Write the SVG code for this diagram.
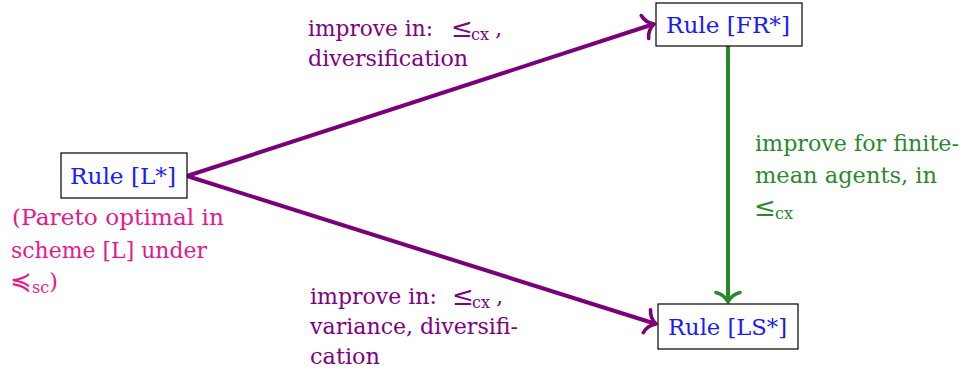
<svg xmlns="http://www.w3.org/2000/svg" width="965" height="374" viewBox="0 0 965 374">
<style>
text{font-family:"DejaVu Serif","Liberation Serif","Times New Roman",serif;font-size:23px}
.sub{font-size:16px}
.rel{font-size:26px}
.node rect{fill:#fff;stroke:#000;stroke-width:1.2}
.node text{fill:#1a1aff}
.pu{fill:#800080}
.gr{fill:#2a8a2a}
.pk{fill:#e6198c}
.ep{stroke:#7a007a;stroke-width:4;fill:none}
.eg{stroke:#2a8a2a;stroke-width:4;fill:none}
</style>
<defs>
<marker id="ap" markerUnits="userSpaceOnUse" orient="auto" markerWidth="30" markerHeight="30" viewBox="-15 -15 30 30" refX="0" refY="0" overflow="visible">
<path d="M-9.5,-12 C-8,-5.4 -2.7,-1.35 0,0 C-2.7,1.35 -8,5.4 -9.5,12" fill="none" stroke="#7a007a" stroke-width="3.6" stroke-linecap="round" stroke-linejoin="round"/>
</marker>
<marker id="ag" markerUnits="userSpaceOnUse" orient="auto" markerWidth="30" markerHeight="30" viewBox="-15 -15 30 30" refX="0" refY="0" overflow="visible">
<path d="M-9.5,-12 C-8,-5.4 -2.7,-1.35 0,0 C-2.7,1.35 -8,5.4 -9.5,12" fill="none" stroke="#2a8a2a" stroke-width="3.6" stroke-linecap="round" stroke-linejoin="round"/>
</marker>
</defs>
<g id="connectors">
<line class="ep" x1="187" y1="176" x2="654" y2="24" marker-end="url(#ap)"/>
<line class="ep" x1="187" y1="176" x2="656" y2="324" marker-end="url(#ap)"/>
<line class="eg" x1="728" y1="46" x2="728" y2="302" marker-end="url(#ag)"/>
<g id="label-top" class="pu">
<text x="308" y="36" textLength="125" lengthAdjust="spacingAndGlyphs">improve in:</text>
<text x="451" y="37"><tspan class="rel">≤</tspan><tspan class="sub" x="471" dy="3">cx</tspan><tspan x="495" dy="-4">,</tspan></text>
<text x="308" y="66" textLength="160" lengthAdjust="spacingAndGlyphs">diversification</text>
</g>
<g id="label-bottom" class="pu">
<text x="310" y="304" textLength="127" lengthAdjust="spacingAndGlyphs">improve in:</text>
<text x="452" y="305"><tspan class="rel">≤</tspan><tspan class="sub" x="472" dy="3">cx</tspan><tspan x="496" dy="-4">,</tspan></text>
<text x="310" y="334" textLength="208" lengthAdjust="spacingAndGlyphs">variance, diversifi-</text>
<text x="310" y="364" textLength="70" lengthAdjust="spacingAndGlyphs">cation</text>
</g>
<g id="label-right" class="gr">
<text x="755" y="151" textLength="204" lengthAdjust="spacingAndGlyphs">improve for finite-</text>
<text x="755" y="183" textLength="182" lengthAdjust="spacingAndGlyphs">mean agents, in</text>
<text x="754" y="216"><tspan class="rel">≤</tspan><tspan class="sub" x="775" dy="3">cx</tspan></text>
</g>
</g>
<g id="node-L" class="node">
<rect x="61" y="153" width="126" height="45"/>
<text x="70" y="184" textLength="106" lengthAdjust="spacingAndGlyphs">Rule [L*]</text>
</g>
<g id="note-L" class="pk">
<text x="12" y="225" textLength="212" lengthAdjust="spacingAndGlyphs">(Pareto optimal in</text>
<text x="11" y="258" textLength="196" lengthAdjust="spacingAndGlyphs">scheme [L] under</text>
<text x="10" y="290"><tspan class="rel">≼</tspan><tspan class="sub" x="32" dy="3">sc</tspan><tspan x="49" dy="-4">)</tspan></text>
</g>
<g id="node-FR" class="node">
<rect x="656" y="3" width="146" height="43"/>
<text x="666" y="33" textLength="124" lengthAdjust="spacingAndGlyphs">Rule [FR*]</text>
</g>
<g id="node-LS" class="node">
<rect x="658" y="304" width="140" height="45"/>
<text x="668" y="335" textLength="119" lengthAdjust="spacingAndGlyphs">Rule [LS*]</text>
</g>
</svg>
